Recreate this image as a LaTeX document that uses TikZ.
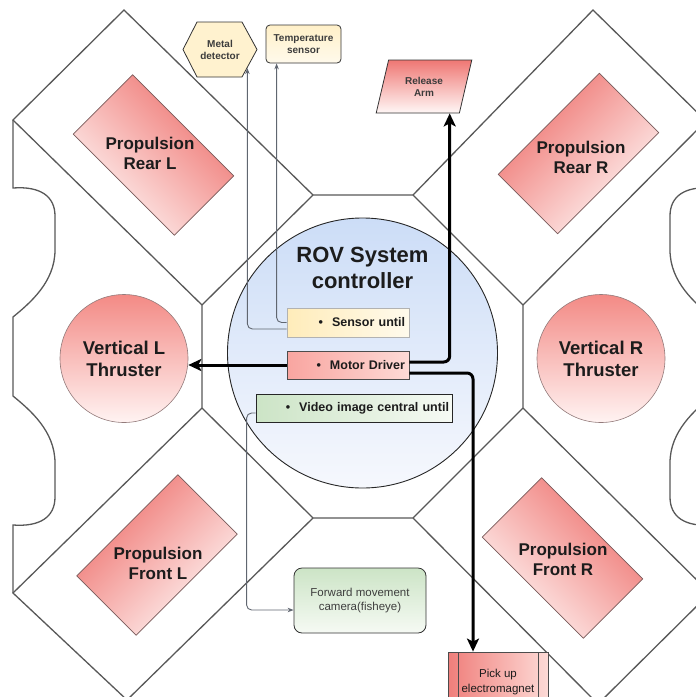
\documentclass[tikz,border=0pt]{standalone}
\usepackage{fontspec}
\setmainfont{Liberation Sans}
\usetikzlibrary{arrows.meta,shapes.geometric,calc}

\definecolor{hull}{RGB}{88,88,88}
\definecolor{txt}{RGB}{28,28,28}
\definecolor{smalltxt}{RGB}{60,60,60}
\definecolor{redTop}{RGB}{238,112,108}
\definecolor{redLow}{RGB}{255,247,246}
\definecolor{thrTop}{RGB}{243,138,133}
\definecolor{thrLow}{RGB}{255,243,242}
\definecolor{redEdge}{RGB}{120,90,90}
\definecolor{ctrlTop}{RGB}{204,221,247}
\definecolor{ctrlLow}{RGB}{246,248,253}
\definecolor{yelA}{RGB}{255,236,186}
\definecolor{yelB}{RGB}{255,250,236}
\definecolor{pinkA}{RGB}{249,165,160}
\definecolor{pinkB}{RGB}{253,218,214}
\definecolor{grnA}{RGB}{204,228,198}
\definecolor{grnB}{RGB}{246,250,244}
\definecolor{wire}{RGB}{96,102,112}

\tikzset{
  hullline/.style={draw=hull, line width=1.3pt, line join=miter},
  propbox/.style={draw=redEdge, line width=0.6pt, top color=redTop, bottom color=redLow,
    minimum width=143pt, minimum height=84pt, inner sep=0pt},
  proptext/.style={font=\fontsize{17}{20}\selectfont\bfseries, align=center, text=txt, inner sep=0pt},
  thruster/.style={circle, draw=redEdge!80, line width=0.6pt, top color=thrTop, bottom color=thrLow,
    minimum size=128pt, inner sep=0pt, font=\fontsize{18.5}{22}\selectfont\bfseries, align=center, text=txt},
  unitbox/.style={draw=gray!75!black, line width=0.8pt, inner sep=0pt, inner xsep=4pt,
    font=\fontsize{12.5}{14}\selectfont\bfseries, text=txt, align=right},
  smallbox/.style={draw=gray!40!black, line width=0.8pt, align=center, inner sep=0pt,
    font=\fontsize{10}{12}\selectfont\bfseries, text=smalltxt},
  wireline/.style={draw=wire, line width=0.9pt, rounded corners=5pt, -{Stealth[length=6pt,width=4.5pt]}},
  heavyline/.style={draw=black, line width=3pt, rounded corners=6pt, -{Stealth[length=13pt,width=12pt,inset=3pt]}}
}

\begin{document}
\begin{tikzpicture}[x=1pt, y=-1pt]
\useasboundingbox (0,0) rectangle (696,697);
\clip (0,0) rectangle (696,697);

% hull: central octagon and the four diagonal arms
\draw[hullline] (313,195) -- (413,195) -- (523,305) -- (523,408) -- (413,518)
  -- (313,518) -- (202,408) -- (202,305) -- cycle;
\draw[hullline] (313,195) -- (124,10) -- (13,120) -- (202,305);
\draw[hullline] (413,195) -- (593,10) -- (706,121) -- (523,305);
\draw[hullline] (202,408) -- (13,593) -- (127,700) -- (313,518);
\draw[hullline] (523,408) -- (710,593) -- (598,704) -- (413,518);

% side pieces with their notches
\draw[hullline] (13,120) -- (13,188) .. controls (40,186) and (55,196) .. (55,216) -- (55,250)
  .. controls (55,282) and (30,303) .. (13,317) -- (13,396)
  .. controls (30,410) and (55,431) .. (55,463) -- (55,497)
  .. controls (55,517) and (40,527) .. (13,525) -- (13,593);
\begin{scope}[xshift=725pt, xscale=-1]
\draw[hullline] (13,120) -- (13,188) .. controls (40,186) and (55,196) .. (55,216) -- (55,250)
  .. controls (55,282) and (30,303) .. (13,317) -- (13,396)
  .. controls (30,410) and (55,431) .. (55,463) -- (55,497)
  .. controls (55,517) and (40,527) .. (13,525) -- (13,593);
\end{scope}

% propulsion thrusters in the arms
\node[propbox, rotate=-45, shading angle=-45] (prl) at (153.5,155) {};
\node[proptext] (prlt) at (150,153) {Propulsion\\Rear L};
\node[propbox, rotate=45, shading angle=45] (prr) at (578.5,153.5) {};
\node[proptext] (prrt) at (581,157) {Propulsion\\Rear R};
\node[propbox, rotate=45, shading angle=45] (pfl) at (157,555) {};
\node[proptext] (pflt) at (158,563) {Propulsion\\Front L};
\node[propbox, rotate=-45, shading angle=-45] (pfr) at (562.5,558) {};
\node[proptext] (pfrt) at (563,559) {Propulsion\\Front R};

% vertical thrusters
\node[thruster] (vl) at (124,358.5) {Vertical L\\Thruster};
\node[thruster] (vr) at (601,358.5) {Vertical R\\Thruster};

% system controller
\node[circle, draw=gray!30!black, line width=0.9pt, top color=ctrlTop, bottom color=ctrlLow,
  minimum size=270pt, inner sep=0pt] (ctrl) at (362.5,353) {};
\node[font=\fontsize{22}{26}\selectfont\bfseries, align=center, text=txt, inner sep=0pt]
  (title) at (362.5,268) {ROV System\\controller};

\node[unitbox, draw=gray!60, left color=yelA, right color=yelB, minimum height=29pt, text width=114pt]
  (sensor) at (348,322.5) {\textbullet\hspace{9pt}Sensor until};
\node[unitbox, draw=gray!60!black, left color=pinkA, right color=pinkB, minimum height=28pt, text width=114pt]
  (motor) at (348,365) {\textbullet\hspace{9pt}Motor Driver};
\node[unitbox, draw=gray!30!black, left color=grnA, right color=grnB, minimum height=28pt,
  inner xsep=3pt, text width=190pt] (video) at (354,408) {\textbullet\hspace{9pt}Video image central until};

% sensors
\fill[yelA!70!white, draw=gray!40!black, line width=0.8pt]
  (183,49.5) -- (197,22) -- (242,22) -- (257,49.5) -- (242,77) -- (197,77) -- cycle;
\node[smallbox, draw=none, minimum width=74pt, minimum height=55pt] (metal) at (220,49.5) {Metal\\detector};
\coordinate (metalin) at ($(metal.east)!0.667!([xshift=-15pt]metal.south east)$);

\node[smallbox, rounded corners=4pt, top color=yelA!80!white, bottom color=yelB,
  minimum width=75pt, minimum height=38pt] (temp) at (303.5,44) {Temperature\\sensor};

% actuators
\node[smallbox, trapezium, trapezium left angle=71, trapezium right angle=109, trapezium stretches=true,
  top color=redTop!95!white, bottom color=redLow, draw=black!80, minimum width=96pt, minimum height=53pt]
  (rel) at (424,86.5) {Release\\Arm};

\node[smallbox, draw=black!70, left color=redTop!90!white, right color=pinkB, minimum width=100pt, minimum height=60pt,
  font=\fontsize{11.5}{15}\selectfont, text=txt,
  path picture={
    \draw[black!70, line width=0.8pt] ([xshift=10pt]path picture bounding box.north west) -- ([xshift=10pt]path picture bounding box.south west);
    \draw[black!70, line width=0.8pt] ([xshift=-10pt]path picture bounding box.north east) -- ([xshift=-10pt]path picture bounding box.south east);
  }] (pick) at (498,682) {Pick up\\electromagnet};

% camera
\node[smallbox, rounded corners=8pt, top color=grnA, bottom color=grnB, minimum width=132pt, minimum height=65pt,
  font=\fontsize{11.5}{14}\selectfont, text=txt!85] (cam) at (360,600.5) {Forward movement\\camera(fisheye)};

% signal connections
\draw[wireline] ([yshift=-6.5pt]sensor.west) -| (metalin);
\draw[wireline] (sensor.west) -| ([xshift=11pt]temp.south west);
\draw[wireline] ([yshift=-5pt]video.west) -- ++(-9,0) |- ([yshift=-9.5pt]cam.west);

% power connections from the motor driver
\draw[heavyline] (motor.west) -- (motor.west -| vl.east);
\draw[heavyline] ([yshift=3pt]motor.east) -| ([xshift=-10pt]rel.bottom right corner);
\draw[heavyline] ([yshift=-8pt]motor.east) -| ([xshift=-25pt]pick.north);
\end{tikzpicture}
\end{document}
